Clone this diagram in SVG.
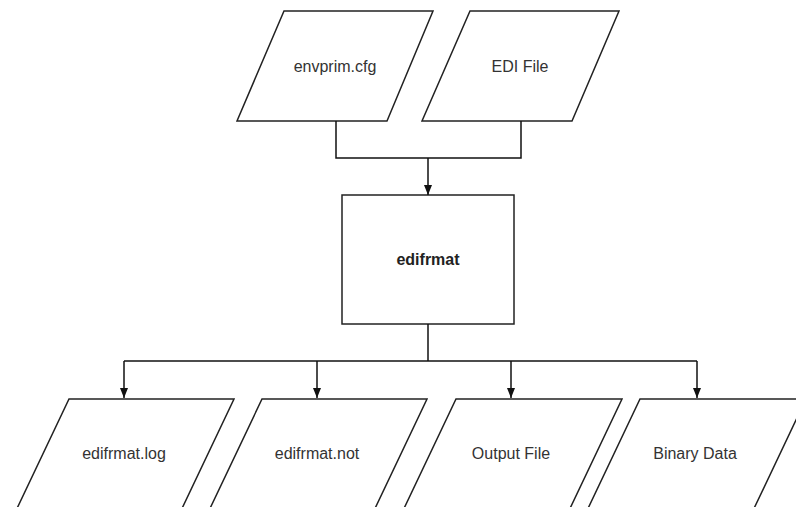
<svg xmlns="http://www.w3.org/2000/svg" width="796" height="507" viewBox="0 0 796 507">
<defs>
<marker id="arr" markerWidth="12" markerHeight="10" refX="10" refY="5" orient="auto" markerUnits="userSpaceOnUse">
<path d="M0,1 L10,5 L0,9 Z" fill="#111"/>
</marker>
<style>
.shape{fill:#fff;stroke:#222;stroke-width:1.5}
.conn{fill:none;stroke:#111;stroke-width:1.5}
.lbl{font-family:"Liberation Sans",Arial,sans-serif;font-size:16px;fill:#333;text-anchor:middle}
.bold{font-weight:bold;fill:#222}
</style>
</defs>
<rect width="796" height="507" fill="#fff"/>
<g id="envprim">
<polygon class="shape" points="284,11 433,11 387,121 237,121"/>
<text class="lbl" x="335" y="72">envprim.cfg</text>
</g>
<g id="edifile">
<polygon class="shape" points="470,11 619,11 572,121 422,121"/>
<text class="lbl" x="520" y="72">EDI File</text>
</g>
<g id="edifrmat">
<rect class="shape" x="342" y="195" width="172" height="129"/>
<text class="lbl bold" x="428" y="265">edifrmat</text>
</g>
<g id="log">
<polygon class="shape" points="69,399 234,399 177,519 12,519"/>
<text class="lbl" x="124" y="459">edifrmat.log</text>
</g>
<g id="not">
<polygon class="shape" points="262,399 427,399 370,519 205,519"/>
<text class="lbl" x="317" y="459">edifrmat.not</text>
</g>
<g id="output">
<polygon class="shape" points="456,399 622,399 565,519 399,519"/>
<text class="lbl" x="511" y="459">Output File</text>
</g>
<g id="binary">
<polygon class="shape" points="640,399 806,399 749,519 583,519"/>
<text class="lbl" x="695" y="459">Binary Data</text>
</g>
<g id="connectors">
<polyline class="conn" points="336,121 336,158 521,158 521,121"/>
<line class="conn" x1="428" y1="158" x2="428" y2="195" marker-end="url(#arr)"/>
<line class="conn" x1="428" y1="324" x2="428" y2="361"/>
<line class="conn" x1="124" y1="361" x2="697" y2="361"/>
<line class="conn" x1="124" y1="361" x2="124" y2="398" marker-end="url(#arr)"/>
<line class="conn" x1="317" y1="361" x2="317" y2="398" marker-end="url(#arr)"/>
<line class="conn" x1="511" y1="361" x2="511" y2="398" marker-end="url(#arr)"/>
<line class="conn" x1="697" y1="361" x2="697" y2="398" marker-end="url(#arr)"/>
</g>
</svg>
